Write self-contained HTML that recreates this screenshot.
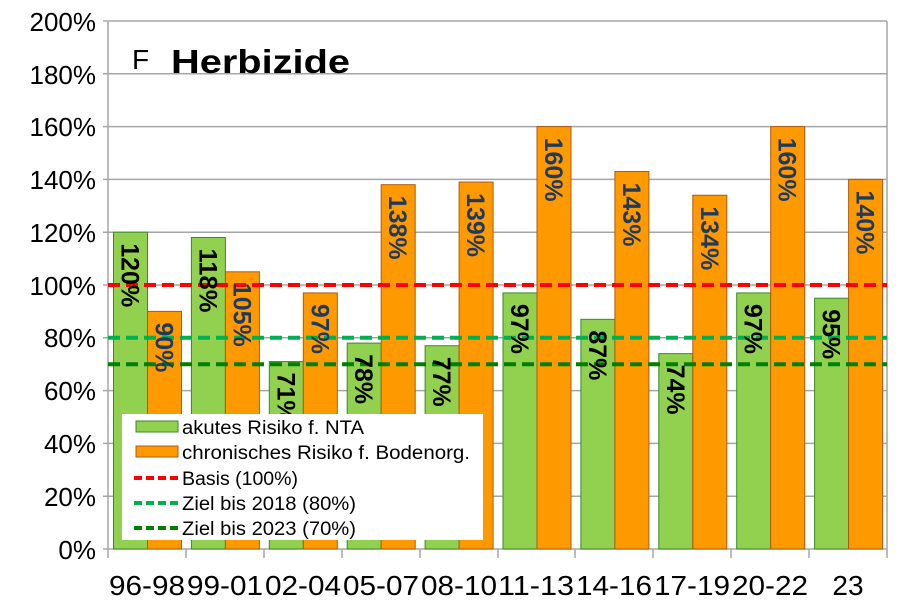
<!DOCTYPE html>
<html><head><meta charset="utf-8"><style>
html,body{margin:0;padding:0;background:#fff;}
svg{display:block;font-family:"Liberation Sans",Arial,sans-serif;}
</style></head><body>
<svg width="900" height="614" viewBox="0 0 900 614" xmlns="http://www.w3.org/2000/svg">
<g stroke="#a6a6a6" stroke-width="1.5">
<line x1="103" y1="21" x2="887" y2="21"/>
<line x1="103" y1="73.8" x2="887" y2="73.8"/>
<line x1="103" y1="126.6" x2="887" y2="126.6"/>
<line x1="103" y1="179.4" x2="887" y2="179.4"/>
<line x1="103" y1="232.2" x2="887" y2="232.2"/>
<line x1="103" y1="285" x2="887" y2="285"/>
<line x1="103" y1="337.8" x2="887" y2="337.8"/>
<line x1="103" y1="390.6" x2="887" y2="390.6"/>
<line x1="103" y1="443.4" x2="887" y2="443.4"/>
<line x1="103" y1="496.2" x2="887" y2="496.2"/>
<line x1="103" y1="549" x2="887" y2="549"/>
<line x1="108" y1="21" x2="108" y2="558"/>
<line x1="887" y1="21" x2="887" y2="549"/>
<line x1="186" y1="549" x2="186" y2="558"/>
<line x1="264" y1="549" x2="264" y2="558"/>
<line x1="342" y1="549" x2="342" y2="558"/>
<line x1="420" y1="549" x2="420" y2="558"/>
<line x1="498" y1="549" x2="498" y2="558"/>
<line x1="575" y1="549" x2="575" y2="558"/>
<line x1="653" y1="549" x2="653" y2="558"/>
<line x1="731" y1="549" x2="731" y2="558"/>
<line x1="809" y1="549" x2="809" y2="558"/>
<line x1="887" y1="549" x2="887" y2="558"/>
</g>
<g font-size="26" fill="#000" text-anchor="end">
<text x="96" y="31">200%</text><text x="96" y="84">180%</text><text x="96" y="136">160%</text>
<text x="96" y="189">140%</text><text x="96" y="242">120%</text><text x="96" y="295">100%</text>
<text x="96" y="347">80%</text><text x="96" y="400">60%</text><text x="96" y="453">40%</text>
<text x="96" y="506">20%</text><text x="96" y="559">0%</text>
</g>
<g id="bars"></g>
<g stroke-width="4" stroke-dasharray="12,6" fill="none">
<line x1="108" y1="285" x2="887" y2="285" stroke="#ff0000"/>
<line x1="108" y1="337.8" x2="887" y2="337.8" stroke="#00b050"/>
<line x1="108" y1="364.2" x2="887" y2="364.2" stroke="#008000"/>
</g>
<g font-size="25" font-weight="bold" id="labels"></g>
<rect x="122" y="414" width="361" height="126" fill="#fff"/>
<rect x="136" y="421" width="42" height="11" fill="#92d050" stroke="#3a8a2a" stroke-width="1"/>
<rect x="136" y="446" width="42" height="11" fill="#ff9900" stroke="#b05a10" stroke-width="1"/>
<g stroke-width="4" stroke-dasharray="8,4"><line x1="134" y1="478" x2="180" y2="478" stroke="#ff0000"/><line x1="134" y1="503" x2="180" y2="503" stroke="#00b050"/><line x1="134" y1="528" x2="180" y2="528" stroke="#008000"/></g>
<g font-size="19" fill="#000">
<text x="182" y="434" textLength="182" lengthAdjust="spacingAndGlyphs">akutes Risiko f. NTA</text>
<text x="182" y="459" textLength="288" lengthAdjust="spacingAndGlyphs">chronisches Risiko f. Bodenorg.</text>
<text x="182" y="485" textLength="116" lengthAdjust="spacingAndGlyphs">Basis (100%)</text>
<text x="182" y="510" textLength="174" lengthAdjust="spacingAndGlyphs">Ziel bis 2018 (80%)</text>
<text x="182" y="535" textLength="174" lengthAdjust="spacingAndGlyphs">Ziel bis 2023 (70%)</text>
</g>
<g font-size="28" fill="#000" text-anchor="middle">
<text x="147" y="595" textLength="76" lengthAdjust="spacingAndGlyphs">96-98</text><text x="225" y="595" textLength="76" lengthAdjust="spacingAndGlyphs">99-01</text><text x="303" y="595" textLength="76" lengthAdjust="spacingAndGlyphs">02-04</text>
<text x="381" y="595" textLength="76" lengthAdjust="spacingAndGlyphs">05-07</text><text x="459" y="595" textLength="76" lengthAdjust="spacingAndGlyphs">08-10</text><text x="536" y="595" textLength="76" lengthAdjust="spacingAndGlyphs">11-13</text>
<text x="614" y="595" textLength="76" lengthAdjust="spacingAndGlyphs">14-16</text><text x="692" y="595" textLength="76" lengthAdjust="spacingAndGlyphs">17-19</text><text x="770" y="595" textLength="76" lengthAdjust="spacingAndGlyphs">20-22</text>
<text x="848" y="595">23</text>
</g>
<text x="132" y="69" font-size="28">F</text>
<text x="171" y="73" font-size="33" font-weight="bold" textLength="179" lengthAdjust="spacingAndGlyphs">Herbizide</text>
<script>
var g=[120,118,71,78,77,97,87,74,97,95],o=[90,105,97,138,139,160,143,134,160,140];
var B=document.getElementById('bars'),L=document.getElementById('labels'),ns='http://www.w3.org/2000/svg';
function y(v){return 549-v*2.64;}
for(var i=0;i<10;i++){
 var x0=108+i*77.9+5.5;
 [[g[i],'#92d050','#3a8a2a','#000',x0],[o[i],'#ff9900','#b05a10','#1f3a5f',x0+34]].forEach(function(d){
  var r=document.createElementNS(ns,'rect');r.setAttribute('x',d[4]);r.setAttribute('y',y(d[0]));r.setAttribute('width',34);r.setAttribute('height',549-y(d[0]));
  r.setAttribute('fill',d[1]);r.setAttribute('stroke',d[2]);r.setAttribute('stroke-width',1);B.appendChild(r);
  var t=document.createElementNS(ns,'text');var cx=d[4]+17,ty=y(d[0])+11;
  t.setAttribute('transform','translate('+cx+','+ty+') rotate(90)');t.setAttribute('x',0);t.setAttribute('y',9);t.setAttribute('fill',d[3]);
  t.setAttribute('textLength',d[0]>=100?64:50);t.setAttribute('lengthAdjust','spacingAndGlyphs');
  t.textContent=d[0]+'%';L.appendChild(t);
 });
}
</script>
</svg>
</body></html>
